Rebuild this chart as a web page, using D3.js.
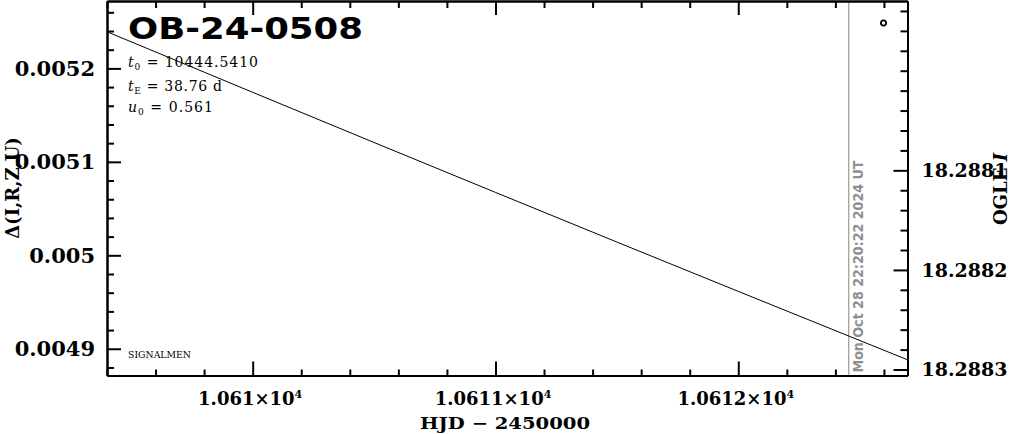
<!DOCTYPE html>
<html><head><meta charset="utf-8">
<script src="https://cdn.jsdelivr.net/npm/d3@7"></script>
<style>
html,body{margin:0;padding:0;background:#fff;}
svg{display:block;}
</style></head><body>
<svg id="chart" width="1011" height="434"></svg>
<script>
// ---- data ----
const hjd   = [10609.4, 10610.0, 10610.5, 10611.0, 10611.5, 10612.0, 10612.7];
const delta = [0.0052392, 0.0051744, 0.0051207, 0.0050673, 0.0050142, 0.0049614, 0.0048879];
const xDomain = [10609.4, 10612.697];
const yDomain = [0.00487139, 0.00527211];
const magDomain = [18.28793, 18.288306];
const xMajor = [10610, 10611, 10612];
const xMajorLabels = ["1.061", "1.0611", "1.0612"];
const yMajor = [0.0049, 0.005, 0.0051, 0.0052];
const yMajorLabels = ["0.0049", "0.005", "0.0051", "0.0052"];
const magMajor = [18.2881, 18.2882, 18.2883];
const magMajorLabels = ["18.2881", "18.2882", "18.2883"];
const titleText = "OB-24-0508";
const paramSym = ["t", "t", "u"];
const paramSub = ["0", "E", "0"];
const paramVal = [" = 10444.5410", " = 38.76 d", " = 0.561"];
const markerHJD = 10612.455;
const markerLabel = "Mon Oct 28 22:20:22 2024 UT";
const xLabel = "HJD \u2212 2450000";
const yLabel = "\u0394(I,R,Z,U)";
const y2Label = "OGLE ";
const y2LabelIt = "I";
const footer = "SIGNALMEN";

// ---- layout ----
const L = 107, T = 1, R = 907.5, B = 375.5;
const svg = d3.select("#chart");
const x = d3.scaleLinear().domain(xDomain).range([L, R]);
const y = d3.scaleLinear().domain(yDomain).range([B, T]);
const m = d3.scaleLinear().domain(magDomain).range([T, B]);

const xMinor = d3.range(0, 17).map(i => +(10609.4 + i * 0.2).toFixed(1)).filter(v => !xMajor.includes(v));
const yMinor = d3.range(0, 21).map(i => +(0.00488 + i * 0.00002).toFixed(5)).filter(v => !yMajor.some(q => Math.abs(q - v) < 1e-9));
const mMinor = d3.range(0, 19).map(i => +(18.28794 + i * 0.00002).toFixed(5)).filter(v => !magMajor.some(q => Math.abs(q - v) < 1e-9));

const serif = "'DejaVu Serif', serif";
const sans = "'DejaVu Sans', sans-serif";

svg.append("clipPath").attr("id", "clip").append("rect")
  .attr("x", L).attr("y", T).attr("width", R - L).attr("height", B - T);

// grey time marker
svg.append("line").attr("x1", x(markerHJD)).attr("x2", x(markerHJD))
  .attr("y1", T).attr("y2", B).attr("stroke", "#999").attr("stroke-width", 1.2);
svg.append("text")
  .attr("transform", `translate(${x(markerHJD) + 14},${B - 3}) rotate(-90)`)
  .attr("font-family", sans).attr("font-weight", "bold").attr("font-size", 14)
  .attr("fill", "#8f8f8f").attr("textLength", 212).attr("lengthAdjust", "spacingAndGlyphs")
  .text(markerLabel);

// model curve
svg.append("path").datum(hjd.map((h, i) => [h, delta[i]]))
  .attr("clip-path", "url(#clip)")
  .attr("fill", "none").attr("stroke", "#000").attr("stroke-width", 1)
  .attr("d", d3.line().x(d => x(d[0])).y(d => y(d[1])).curve(d3.curveMonotoneX));

function styleAxis(g) {
  g.selectAll("path.domain").attr("stroke", "#000").attr("stroke-width", 2);
  g.selectAll(".tick line").attr("stroke", "#000").attr("stroke-width", 2);
}

// minor ticks
svg.append("g").attr("transform", `translate(0,${B})`)
  .call(d3.axisBottom(x).tickValues(xMinor).tickSize(-6).tickSizeOuter(0).tickFormat(""))
  .call(styleAxis);
svg.append("g").attr("transform", `translate(0,${T})`)
  .call(d3.axisTop(x).tickValues(xMinor).tickSize(-7).tickSizeOuter(0).tickFormat(""))
  .call(styleAxis);
svg.append("g").attr("transform", `translate(${L},0)`)
  .call(d3.axisLeft(y).tickValues(yMinor).tickSize(-7).tickSizeOuter(0).tickFormat(""))
  .call(styleAxis);
svg.append("g").attr("transform", `translate(${R},0)`)
  .call(d3.axisRight(m).tickValues(mMinor).tickSize(-7).tickSizeOuter(0).tickFormat(""))
  .call(styleAxis);

// major ticks
const gx = svg.append("g").attr("transform", `translate(0,${B})`)
  .call(d3.axisBottom(x).tickValues(xMajor).tickSize(-14).tickSizeOuter(0).tickPadding(17).tickFormat(""))
  .call(styleAxis);
gx.selectAll(".tick text").each(function(d, i) {
  const t = d3.select(this).attr("font-family", serif).attr("font-weight", "bold")
    .attr("font-size", 18).attr("fill", "#000").attr("dx", "-3");
  t.append("tspan").text(xMajorLabels[i] + "\u00d710");
  t.append("tspan").attr("font-size", 11).attr("dy", "-7").text("4");
});
svg.append("g").attr("transform", `translate(0,${T})`)
  .call(d3.axisTop(x).tickValues(xMajor).tickSize(-14).tickSizeOuter(0).tickFormat(""))
  .call(styleAxis);
const gy = svg.append("g").attr("transform", `translate(${L},0)`)
  .call(d3.axisLeft(y).tickValues(yMajor).tickSize(-14).tickSizeOuter(0).tickPadding(12)
    .tickFormat((d, i) => yMajorLabels[i]))
  .call(styleAxis);
gy.selectAll(".tick text").attr("font-family", serif).attr("font-weight", "bold")
  .attr("font-size", 21).attr("fill", "#000");
const gm = svg.append("g").attr("transform", `translate(${R},0)`)
  .call(d3.axisRight(m).tickValues(magMajor).tickSize(-14).tickSizeOuter(0).tickPadding(14)
    .tickFormat((d, i) => magMajorLabels[i]))
  .call(styleAxis);
gm.selectAll(".tick text").attr("font-family", serif).attr("font-weight", "bold")
  .attr("font-size", 19).attr("fill", "#000");

// title
svg.append("text").attr("x", 128).attr("y", 39)
  .attr("font-family", sans).attr("font-weight", "bold").attr("font-size", 30)
  .attr("textLength", 235).attr("lengthAdjust", "spacingAndGlyphs")
  .text(titleText);

// parameters
const baselines = [67, 90.5, 112];
const paramWidths = [130, 94, 85];
paramSym.forEach((s, i) => {
  const t = svg.append("text").attr("x", 128).attr("y", baselines[i])
    .attr("font-family", serif).attr("font-size", 14).attr("fill", "#000")
    .attr("textLength", paramWidths[i]).attr("lengthAdjust", "spacing");
  t.append("tspan").attr("font-style", "italic").text(paramSym[i]);
  t.append("tspan").attr("font-size", 9).attr("dy", 3).text(paramSub[i]);
  t.append("tspan").attr("dy", -3).text(paramVal[i]);
});

// legend symbol
svg.append("circle").attr("cx", 883.5).attr("cy", 23).attr("r", 2.6)
  .attr("fill", "none").attr("stroke", "#000").attr("stroke-width", 1.8);

// footer
svg.append("text").attr("x", 128).attr("y", 358)
  .attr("font-family", serif).attr("font-size", 9).attr("fill", "#000")
  .attr("textLength", 63).attr("lengthAdjust", "spacingAndGlyphs").text(footer);

// axis titles
svg.append("text").attr("x", 505).attr("y", 429).attr("text-anchor", "middle")
  .attr("font-family", serif).attr("font-weight", "bold").attr("font-size", 16)
  .attr("textLength", 170).attr("lengthAdjust", "spacingAndGlyphs").text(xLabel);
svg.append("text").attr("transform", "translate(19,188) rotate(-90)").attr("text-anchor", "middle")
  .attr("font-family", serif).attr("font-weight", "bold").attr("font-size", 18)
  .text(yLabel);
const t2 = svg.append("text").attr("transform", "translate(1007,189) rotate(-90)").attr("text-anchor", "middle")
  .attr("font-family", serif).attr("font-weight", "bold").attr("font-size", 18);
t2.append("tspan").text(y2Label);
t2.append("tspan").attr("font-style", "italic").text(y2LabelIt);
</script>
</body></html>
